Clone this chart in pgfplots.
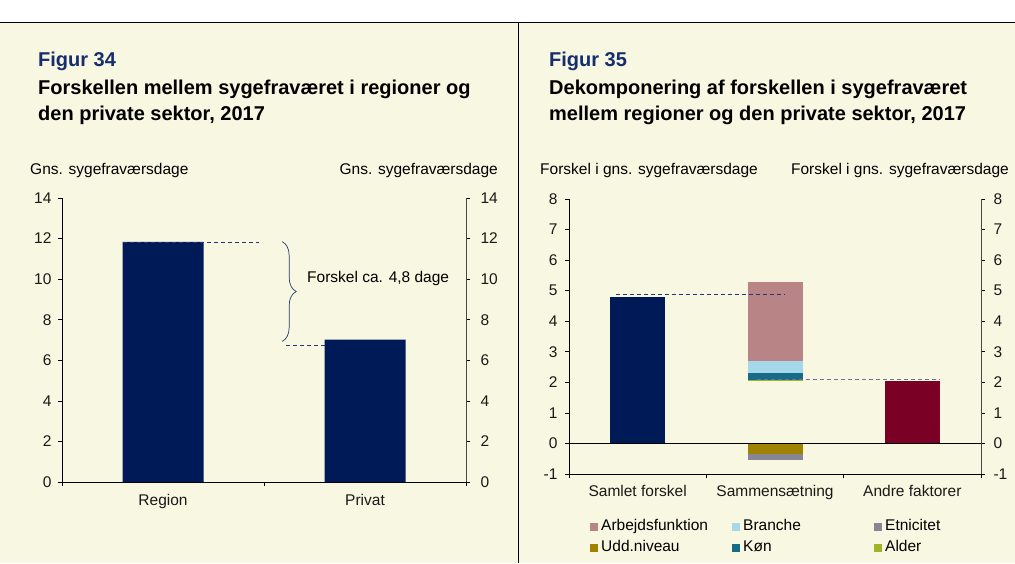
\documentclass[border=0pt]{standalone}
\usepackage{pgfplots}
\pgfplotsset{compat=1.18}
\usepackage{fontspec}
\setmainfont{Liberation Sans}
\usetikzlibrary{decorations.pathreplacing}
\definecolor{bg}{RGB}{248,247,225}
\definecolor{navy}{RGB}{0,26,87}
\definecolor{titlenavy}{RGB}{22,45,110}
\definecolor{dashc}{RGB}{40,55,115}
\definecolor{dred}{RGB}{122,0,38}
\definecolor{rose}{RGB}{184,132,134}
\definecolor{lblue}{RGB}{166,216,236}
\definecolor{ckon}{RGB}{23,107,135}
\definecolor{ygreen}{RGB}{160,180,40}
\definecolor{olivec}{RGB}{158,130,0}
\definecolor{greyc}{RGB}{135,133,150}
\definecolor{axisgrey}{RGB}{70,70,70}
\newcommand{\fs}{\fontsize{15.5}{18}\selectfont}
\newcommand{\ft}{\fontsize{20}{24}\selectfont\bfseries}
\pgfplotsset{
  base/.style={scale only axis, clip=false,
    /pgf/number format/assume math mode=true,
    tick label style={font=\fs, text=black!90},
    tick align=outside, major tick length=4pt,
    tick style={black, line width=0.6pt},
    axis line style={line width=0.8pt}},
  sq/.style={legend image code/.code={\fill[##1, draw=none] (0pt,-4pt) rectangle (8pt,4pt);}},
}
\begin{document}
\begin{tikzpicture}[x=1pt,y=1pt]
\useasboundingbox (0,0) rectangle (1015,563);
\fill[white] (0,0) rectangle (1015,563);
\fill[bg] (0,0) rectangle (1015,541);
\draw[black, line width=0.8pt] (0,541) -- (1015,541);
\draw[black, line width=0.8pt] (518,541) -- (518,0);

% ---- titles
\node[anchor=base west, inner sep=0, font=\ft, text=titlenavy] at (38,496) {Figur 34};
\node[anchor=base west, inner sep=0, font=\ft] at (38,468) {Forskellen mellem sygefraværet i regioner og};
\node[anchor=base west, inner sep=0, font=\ft] at (38,442) {den private sektor, 2017};
\node[anchor=base west, inner sep=0, font=\ft, text=titlenavy] at (549,496) {Figur 35};
\node[anchor=base west, inner sep=0, font=\ft] at (549,468) {Dekomponering af forskellen i sygefraværet};
\node[anchor=base west, inner sep=0, font=\ft] at (549,442) {mellem regioner og den private sektor, 2017};

\node[anchor=base west, inner sep=0, font=\fs] at (30,388.5) {Gns. sygefraværsdage};
\node[anchor=base east, inner sep=0, font=\fs] at (498,388.5) {Gns. sygefraværsdage};
\node[anchor=base west, inner sep=0, font=\fs] at (540,388.5) {Forskel i gns. sygefraværsdage};
\node[anchor=base east, inner sep=0, font=\fs] at (1009,388.5) {Forskel i gns. sygefraværsdage};

% ---- Figure 34
\begin{axis}[base, at={(62pt,81pt)}, anchor=south west, width=404pt, height=284pt,
  xmin=-0.5, xmax=1.5, ymin=0, ymax=14,
  axis x line*=bottom, axis y line*=left,
  ytick={0,2,...,14}, yticklabel style={xshift=-3pt},
  xtick={-0.5,0.5,1.5}, xticklabels={,,},
  extra x ticks={0,1}, extra x tick labels={Region,Privat},
  extra x tick style={major tick length=0pt, xticklabel style={yshift=-9pt}},
]
\addplot[ybar, bar width=81pt, fill=navy, draw=none] coordinates {(0,11.84) (1,7.02)};
\end{axis}
\begin{axis}[base, at={(62pt,81pt)}, anchor=south west, width=404pt, height=284pt,
  xmin=-0.5, xmax=1.5, ymin=0, ymax=14,
  axis x line=none, axis y line*=right, axis line style={axisgrey},
  ytick={0,2,...,14}, yticklabel style={xshift=7pt},
]
\addplot[draw=none] coordinates {(0,0)};
\draw[dashc, dash pattern=on 4pt off 3pt, line width=0.8pt] (axis cs:-0.198,11.8) -- (axis cs:0.475,11.8);
\draw[dashc, dash pattern=on 4pt off 3pt, line width=0.8pt] (axis cs:0.609,6.75) -- (axis cs:0.802,6.75);
\draw[dashc, line width=0.7pt, decorate, decoration={brace, amplitude=14pt}] (axis cs:0.59,11.85) -- (axis cs:0.59,6.93);
\node[anchor=west, inner sep=0, font=\fs] at (axis cs:0.713,10.05) {Forskel ca. 4,8 dage};
\end{axis}

% ---- Figure 35
\begin{axis}[base, at={(569pt,89pt)}, anchor=south west, width=412pt, height=275pt,
  xmin=-0.5, xmax=2.5, ymin=-1, ymax=8,
  axis x line*=bottom, axis y line*=left,
  ytick={-1,0,...,8}, yticklabel style={xshift=-4pt},
  xtick={-0.5,0.5,1.5,2.5}, xticklabels={,,,},
  extra x ticks={0,1,2}, extra x tick labels={Samlet forskel,Sammensætning,Andre faktorer},
  extra x tick style={major tick length=0pt, xticklabel style={yshift=-8pt}},
  ybar stacked, bar width=55pt,
]
\addplot[fill=navy, draw=none] coordinates {(0,4.80) (1,0) (2,0)};
\addplot[fill=dred, draw=none] coordinates {(0,0) (1,0) (2,2.03)};
\addplot[fill=olivec, draw=none] coordinates {(0,0) (1,-0.33) (2,0)};
\addplot[fill=greyc, draw=none] coordinates {(0,0) (1,-0.22) (2,0)};
\addplot[fill=none, draw=none] coordinates {(0,0) (1,2.03) (2,0)};
\addplot[fill=ygreen, draw=none] coordinates {(0,0) (1,0.06) (2,0)};
\addplot[fill=ckon, draw=none] coordinates {(0,0) (1,0.23) (2,0)};
\addplot[fill=lblue, draw=none] coordinates {(0,0) (1,0.39) (2,0)};
\addplot[fill=rose, draw=none] coordinates {(0,0) (1,2.58) (2,0)};
\end{axis}
\begin{axis}[base, at={(569pt,89pt)}, anchor=south west, width=412pt, height=275pt,
  xmin=-0.5, xmax=2.5, ymin=-1, ymax=8,
  axis x line=none, axis y line*=right, axis line style={axisgrey},
  ytick={-1,0,...,8}, yticklabel style={xshift=5pt},
]
\addplot[draw=none] coordinates {(0,0)};
\draw[black, line width=0.8pt] (axis cs:-0.5,0) -- (axis cs:2.5,0);
\draw[dashc, dash pattern=on 4pt off 3pt, line width=0.8pt] (axis cs:-0.16,4.88) -- (axis cs:1.073,4.88);
\draw[dashc!70, dash pattern=on 4pt off 3pt, line width=0.8pt] (axis cs:0.87,2.08) -- (axis cs:2.2,2.08);
\end{axis}
\begin{axis}[scale only axis, at={(569pt,89pt)}, anchor=south west, width=412pt, height=275pt,
  xmin=0, xmax=1, ymin=0, ymax=1, hide axis,
  legend columns=3,
  legend style={at={(axis description cs:0.051,-0.155)}, anchor=north west,
    draw=none, fill=none, inner sep=0pt, font=\fs, cells={anchor=west},
    nodes={inner xsep=3pt, inner ysep=3pt, text width=128pt, align=left, text height=11pt, text depth=3pt},
    row sep=1pt},
]
\addplot[draw=none, forget plot] coordinates {(0,0)};
\addlegendimage{sq, fill=rose}\addlegendentry{Arbejdsfunktion}
\addlegendimage{sq, fill=lblue}\addlegendentry{Branche}
\addlegendimage{sq, fill=greyc}\addlegendentry{Etnicitet}
\addlegendimage{sq, fill=olivec}\addlegendentry{Udd.niveau}
\addlegendimage{sq, fill=ckon}\addlegendentry{Køn}
\addlegendimage{sq, fill=ygreen}\addlegendentry{Alder}
\end{axis}
\end{tikzpicture}
\end{document}
